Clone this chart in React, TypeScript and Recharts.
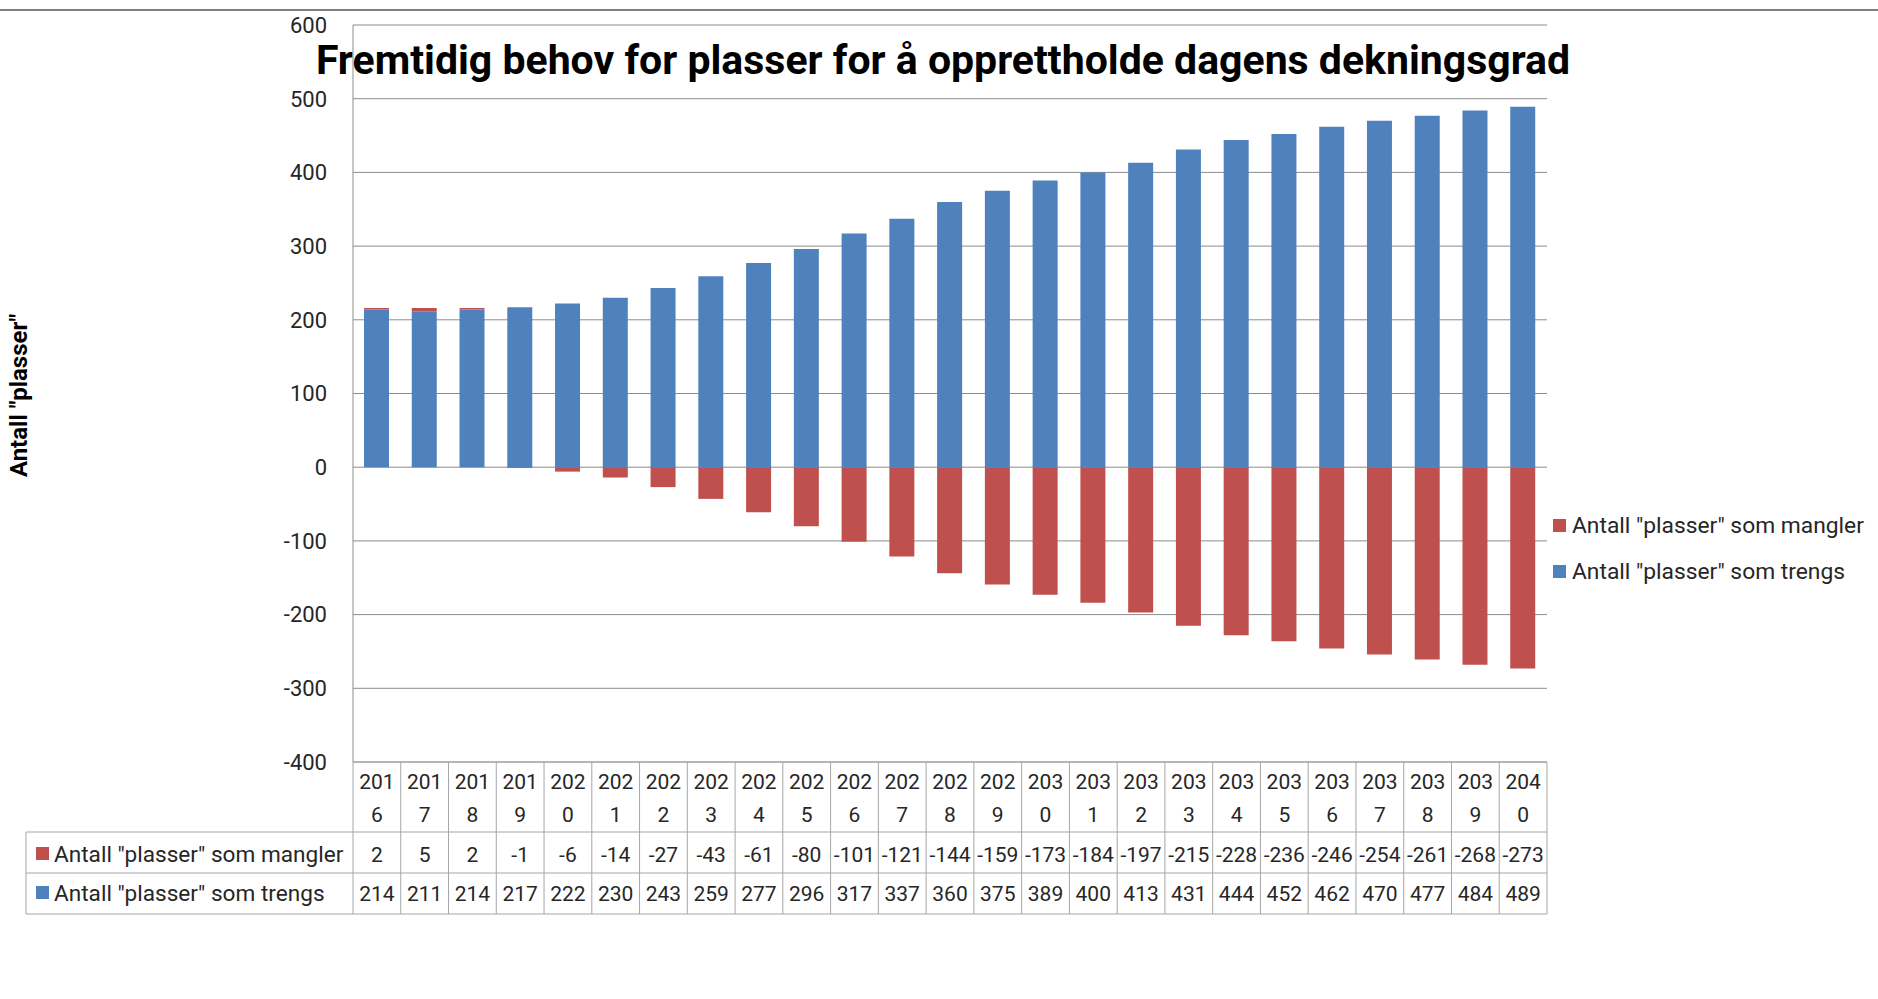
import { BarChart, Bar, XAxis, YAxis, CartesianGrid, Legend } from 'recharts'

const years = [2016, 2017, 2018, 2019, 2020, 2021, 2022, 2023, 2024, 2025, 2026, 2027, 2028, 2029, 2030, 2031, 2032, 2033, 2034, 2035, 2036, 2037, 2038, 2039, 2040]
const mangler = [2, 5, 2, -1, -6, -14, -27, -43, -61, -80, -101, -121, -144, -159, -173, -184, -197, -215, -228, -236, -246, -254, -261, -268, -273]
const trengs = [214, 211, 214, 217, 222, 230, 243, 259, 277, 296, 317, 337, 360, 375, 389, 400, 413, 431, 444, 452, 462, 470, 477, 484, 489]
const yTicks = [-400, -300, -200, -100, 0, 100, 200, 300, 400, 500, 600]

const NAME_MANGLER = 'Antall "plasser" som mangler'
const NAME_TRENGS = 'Antall "plasser" som trengs'

const data = years.map((year, i) => ({ year, mangler: mangler[i], trengs: trengs[i] }))

const FONT = 'Roboto, "Open Sans", sans-serif'
const BLUE = '#4F81BD'
const RED = '#C0504D'
const GRID = '#8c8c8c'
const TABLE_LINE = '#a6a6a6'
const TEXT = '#262626'

const PLOT_LEFT = 353
const PLOT_RIGHT = 1547
const TABLE_LEFT = 26
const CELL_W = (PLOT_RIGHT - PLOT_LEFT) / years.length

// x-axis tick draws one column of the data table under the plot
function TableTick(props: any) {
  const { x, y, payload } = props
  const i = payload.index ?? props.index
  const year = String(payload.value)
  const left = x - CELL_W / 2
  return (
    <g fontFamily={FONT} fill={TEXT} fontSize={21}>
      {i === 0 && (
        <g>
          <line x1={PLOT_LEFT} x2={PLOT_RIGHT} y1={y} y2={y} stroke={TABLE_LINE} />
          <line x1={TABLE_LEFT} x2={PLOT_RIGHT} y1={y + 70} y2={y + 70} stroke={TABLE_LINE} />
          <line x1={TABLE_LEFT} x2={PLOT_RIGHT} y1={y + 111} y2={y + 111} stroke={TABLE_LINE} />
          <line x1={TABLE_LEFT} x2={PLOT_RIGHT} y1={y + 152} y2={y + 152} stroke={TABLE_LINE} />
          <line x1={TABLE_LEFT} x2={TABLE_LEFT} y1={y + 70} y2={y + 152} stroke={TABLE_LINE} />
          <rect x={TABLE_LEFT + 10} y={y + 85} width={13} height={13} fill={RED} />
          <text x={TABLE_LEFT + 28} y={y + 100} fontSize={22.6}>{NAME_MANGLER}</text>
          <rect x={TABLE_LEFT + 10} y={y + 124} width={13} height={13} fill={BLUE} />
          <text x={TABLE_LEFT + 28} y={y + 139} fontSize={22.6}>{NAME_TRENGS}</text>
        </g>
      )}
      <line x1={left} x2={left} y1={y} y2={y + 152} stroke={TABLE_LINE} />
      {i === years.length - 1 && (
        <line x1={left + CELL_W} x2={left + CELL_W} y1={y} y2={y + 152} stroke={TABLE_LINE} />
      )}
      <text x={x} y={y + 27} textAnchor="middle">{year.slice(0, 3)}</text>
      <text x={x} y={y + 60} textAnchor="middle">{year.slice(3)}</text>
      <text x={x} y={y + 100} textAnchor="middle">{mangler[i]}</text>
      <text x={x} y={y + 139} textAnchor="middle">{trengs[i]}</text>
    </g>
  )
}

function LegendBox() {
  const items = [
    { name: NAME_MANGLER, color: RED },
    { name: NAME_TRENGS, color: BLUE },
  ]
  return (
    <div style={{ fontFamily: FONT, fontSize: 22.8, color: TEXT }}>
      {items.map((it) => (
        <div key={it.name} style={{ display: 'flex', alignItems: 'center', height: 46 }}>
          <span style={{ width: 13, height: 13, background: it.color, display: 'inline-block', marginRight: 6 }} />
          {it.name}
        </div>
      ))}
    </div>
  )
}

function YLabel(props: any) {
  const { viewBox } = props
  const cx = viewBox.x + 8
  const cy = viewBox.y + viewBox.height / 2 + 2
  return (
    <text x={cx} y={cy} transform={`rotate(-90 ${cx} ${cy})`} textAnchor="middle" dominantBaseline="middle"
      fontFamily={FONT} fontWeight="bold" fontSize={24} fill="#000">
      Antall "plasser"
    </text>
  )
}

export default function App() {
  return (
    <div style={{ position: 'absolute', left: 0, top: 0, width: 1878, height: 999, background: '#fff' }}>
      <div style={{ position: 'absolute', left: 0, top: 9, width: 1878, height: 2, background: '#7f7f7f' }} />
      <BarChart
        width={1878}
        height={999}
        data={data}
        stackOffset="sign"
        margin={{ top: 25, right: 331, bottom: 85, left: 13 }}
      >
        <CartesianGrid vertical={false} stroke={GRID} />
        <XAxis
          dataKey="year"
          height={152}
          interval={0}
          tickSize={0}
          tickMargin={0}
          tickLine={false}
          axisLine={false}
          tick={<TableTick />}
        />
        <YAxis
          width={340}
          domain={[-400, 600]}
          ticks={yTicks}
          interval={0}
          tickLine={false}
          tickMargin={20}
          axisLine={{ stroke: GRID }}
          tick={{ fontFamily: FONT, fontSize: 22, fill: TEXT }}
          label={{ content: <YLabel /> }}
        />
        <Legend
          layout="horizontal"
          verticalAlign="middle"
          align="center"
          wrapperStyle={{ left: 1553, top: 502, width: 320 }}
          content={() => <LegendBox />}
        />
        <Bar dataKey="trengs" name={NAME_TRENGS} stackId="a" fill={BLUE} barSize={25} isAnimationActive={false} />
        <Bar dataKey="mangler" name={NAME_MANGLER} stackId="a" fill={RED} barSize={25} isAnimationActive={false} />
      </BarChart>
      <div
        style={{
          position: 'absolute', left: 200, top: 34, width: 1486, textAlign: 'center',
          fontFamily: FONT, fontWeight: 'bold', fontSize: 41, lineHeight: '52px', color: '#000',
        }}
      >
        Fremtidig behov for plasser for å opprettholde dagens dekningsgrad
      </div>
    </div>
  )
}
